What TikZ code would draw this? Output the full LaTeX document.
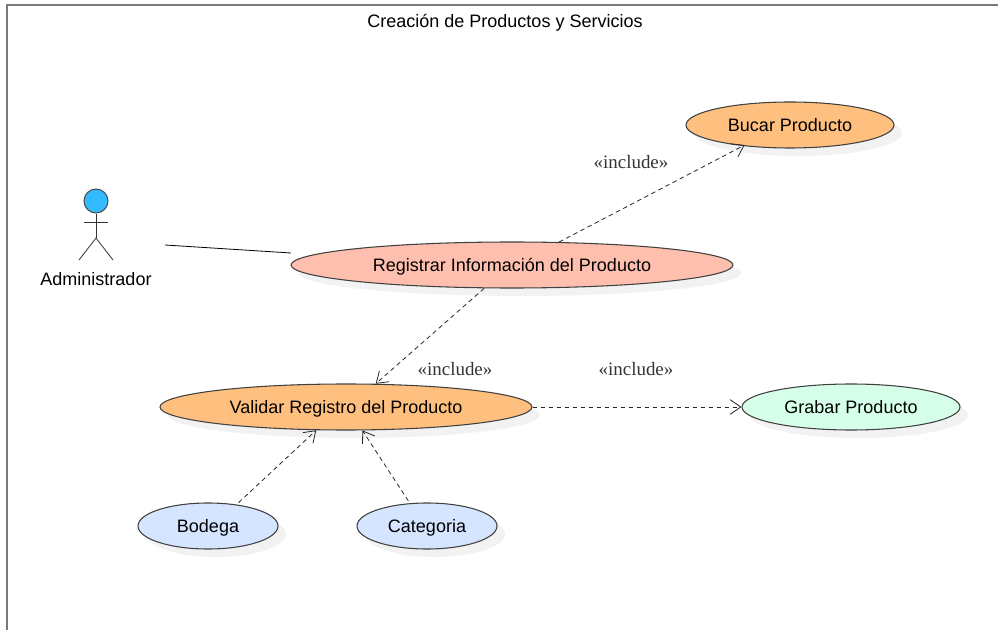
\documentclass[tikz,border=0pt]{standalone}
\usepackage{fontspec}
\setmainfont{Liberation Sans}
\newfontfamily\stereofont{Liberation Serif}
\usepackage{tikz}
\usetikzlibrary{shapes.geometric, shadows, arrows.meta}
\definecolor{caseorange}{HTML}{FFC07F}
\definecolor{casesalmon}{HTML}{FFBFAF}
\definecolor{casemint}{HTML}{D5FFE8}
\definecolor{caseblue}{HTML}{D5E5FF}
\definecolor{actorblue}{HTML}{33BBFF}
\definecolor{framegrey}{HTML}{7A7A7A}
\begin{document}
\begin{tikzpicture}[x=0.75pt, y=-0.75pt,
		usecase/.style={ellipse, draw=black!75, thick, inner sep=0pt, minimum height=34.5pt, text height=10pt, text depth=0pt, font=\fontsize{13.5}{15}\selectfont,
			drop shadow={shadow xshift=6pt, shadow yshift=-6pt, fill=black!5, opacity=1}},
		label/.style={font=\fontsize{13.5}{15}\selectfont, inner sep=0pt},
		stereo/.style={font=\stereofont\fontsize{14.2}{16}\selectfont, text=black!80, inner sep=0pt},
		incl/.style={draw=black!85, dashed, dash pattern=on 3.4pt off 2.6pt, semithick},
		open/.style={-{Straight Barb[length=8pt, width=11pt]}},
		stick/.style={draw=black!80, semithick}]
		\useasboundingbox (0,0) rectangle (998,630);
		\draw[framegrey, line width=1.5pt] (7,630) -- (7,5) -- (998,5);
		\node[label] (title) at (505,23) {Creación de Productos y Servicios};

		\node[usecase, fill=caseorange, minimum width=156pt] (bucar) at (790,125) {Bucar Producto};
		\node[usecase, fill=casesalmon, minimum width=331.5pt] (registrar) at (512,265) {Registrar Información del Producto};
		\node[usecase, fill=caseorange, minimum width=279pt] (validar) at (346,407) {Validar Registro del Producto};
		\node[usecase, fill=casemint, minimum width=163.5pt] (grabar) at (851,407) {Grabar Producto};
		\node[usecase, fill=caseblue, minimum width=105pt] (bodega) at (208,526) {Bodega};
		\node[usecase, fill=caseblue, minimum width=105pt] (categoria) at (427,526) {Categoria};

		\node[stereo] (incl1) at (631,162) {«include»};
		\node[stereo] (incl2) at (455,369) {«include»};
		\node[stereo] (incl3) at (636,369) {«include»};

		% actor
		\node[circle, draw=black!70, fill=actorblue, thick, inner sep=0pt, minimum size=18pt] (head) at (96,201) {};
		\coordinate (hip) at (96,238);
		\coordinate (armL) at (84,222);
		\coordinate (armR) at (108,222);
		\coordinate (footL) at (79,260);
		\coordinate (footR) at (113,260);
		\draw[stick] (head) -- (hip);
		\draw[stick] (armL) -- (armR);
		\draw[stick] (footL) -- (hip) -- (footR);
		\node[label] (actor) at (96,279) {Administrador};

		\coordinate (assocA) at (165,245);
		\coordinate (assocB) at (291,253);
		\draw[black, semithick] (assocA) -- (assocB);

		\path (registrar.26) edge[incl, open, shorten >=-1.5pt] (bucar.204);
		\path (registrar.220) edge[incl, open] (validar.38);
		\path (validar.east) edge[incl, open] (grabar.west);
		\path (bodega.37) edge[incl, open, shorten <=2pt] (validar.218);
		\path (categoria.127) edge[incl, open, shorten <=2pt] (validar.305);
	\end{tikzpicture}
\end{document}
